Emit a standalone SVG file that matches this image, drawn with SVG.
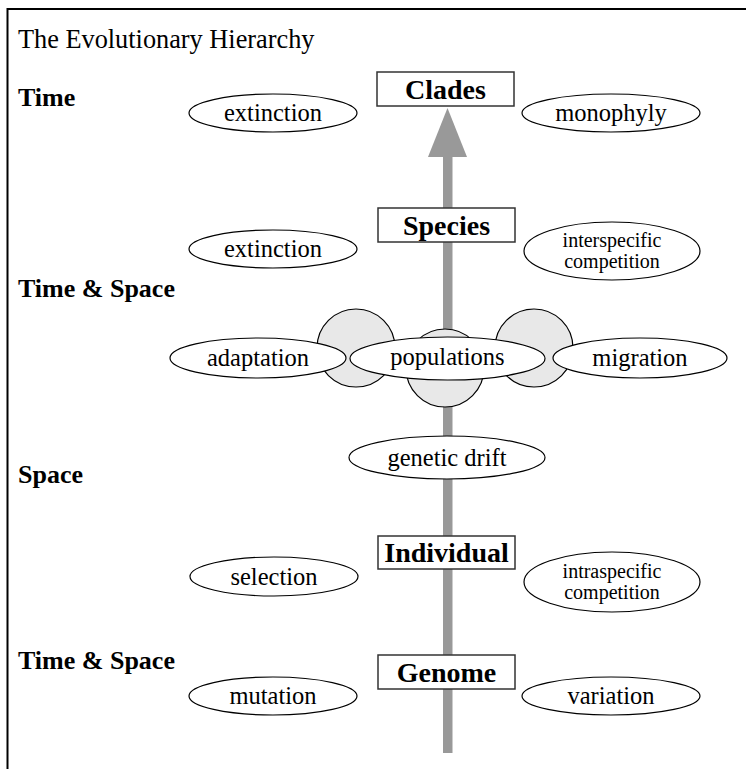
<svg xmlns="http://www.w3.org/2000/svg" width="746" height="769" viewBox="0 0 746 769">
<style>
.t{font-family:"Liberation Serif","Times New Roman",serif;fill:#000}
.lbl{font-size:24.5px;text-anchor:middle}
.sm{font-size:20px;text-anchor:middle}
.bx{font-size:28px;font-weight:bold;text-anchor:middle}
.side{font-size:26px;font-weight:bold}
.el{fill:#fff;stroke:#000;stroke-width:1.2}
.box{fill:#fff;stroke:#333;stroke-width:1.5}
.cir{fill:#e8e8e8;stroke:#000;stroke-width:1.2}
</style>
<rect x="0" y="0" width="746" height="769" fill="#fff"/>
<path d="M7.5 769 V9 H746" fill="none" stroke="#000" stroke-width="2"/>
<text class="t" x="18" y="48" font-size="26.3">The Evolutionary Hierarchy</text>
<text class="t side" x="18" y="106">Time</text>
<text class="t side" x="18" y="297">Time &amp; Space</text>
<text class="t side" x="18" y="483">Space</text>
<text class="t side" x="18" y="669">Time &amp; Space</text>
<g id="connectors">
<rect x="443" y="155" width="9.5" height="598" fill="#999"/>
<polygon points="428,157 467,157 447.5,108" fill="#999"/>
</g>
<g id="pop-circles">
<circle class="cir" cx="356" cy="348" r="39"/>
<circle class="cir" cx="534" cy="348" r="39"/>
<circle class="cir" cx="445" cy="368" r="39"/>
</g>
<g id="clades"><rect class="box" x="377" y="72" width="137" height="34"/><text class="t bx" x="445.5" y="99">Clades</text></g>
<g id="extinction1"><ellipse class="el" cx="273" cy="113" rx="84" ry="19"/><text class="t lbl" x="273" y="121">extinction</text></g>
<g id="monophyly"><ellipse class="el" cx="611" cy="113" rx="89" ry="19"/><text class="t lbl" x="611" y="121">monophyly</text></g>
<g id="species"><rect class="box" x="378" y="208" width="137" height="34"/><text class="t bx" x="446.5" y="235">Species</text></g>
<g id="extinction2"><ellipse class="el" cx="273" cy="249" rx="84" ry="19"/><text class="t lbl" x="273" y="257">extinction</text></g>
<g id="interspecific"><ellipse class="el" cx="612" cy="251" rx="88" ry="29"/><text class="t sm" x="612" y="247">interspecific</text><text class="t sm" x="612" y="268">competition</text></g>
<g id="adaptation"><ellipse class="el" cx="258" cy="358" rx="88" ry="20"/><text class="t lbl" x="258" y="366">adaptation</text></g>
<g id="migration"><ellipse class="el" cx="640" cy="358" rx="87" ry="20"/><text class="t lbl" x="640" y="366">migration</text></g>
<g id="populations"><ellipse class="el" cx="447.5" cy="358.5" rx="97.5" ry="21.5"/><text class="t lbl" x="447.5" y="365">populations</text></g>
<g id="genetic-drift"><ellipse class="el" cx="447" cy="457.5" rx="98" ry="21.5"/><text class="t lbl" x="447" y="466">genetic drift</text></g>
<g id="individual"><rect class="box" x="378" y="536" width="137" height="33"/><text class="t bx" x="446.5" y="562">Individual</text></g>
<g id="selection"><ellipse class="el" cx="274" cy="576.5" rx="84" ry="19.5"/><text class="t lbl" x="274" y="585">selection</text></g>
<g id="intraspecific"><ellipse class="el" cx="612" cy="582" rx="88" ry="30"/><text class="t sm" x="612" y="578">intraspecific</text><text class="t sm" x="612" y="599">competition</text></g>
<g id="genome"><rect class="box" x="378" y="655" width="137" height="34"/><text class="t bx" x="446.5" y="682">Genome</text></g>
<g id="mutation"><ellipse class="el" cx="273" cy="696" rx="84" ry="19"/><text class="t lbl" x="273" y="704">mutation</text></g>
<g id="variation"><ellipse class="el" cx="611" cy="696" rx="89" ry="19"/><text class="t lbl" x="611" y="704">variation</text></g>
</svg>
